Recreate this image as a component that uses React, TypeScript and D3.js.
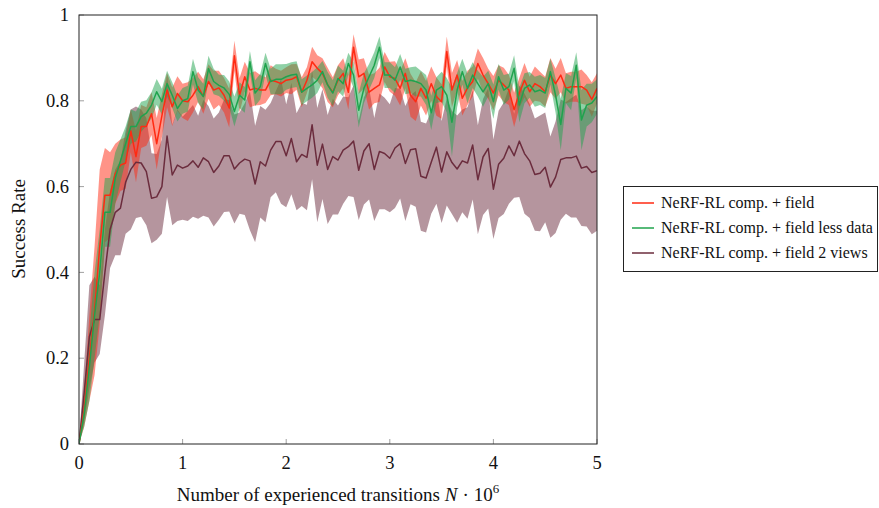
import React from 'react'
import * as d3 from 'd3'

// transitions (millions), sampled every 50k
const steps = d3.range(101).map(i => i / 20)

const fieldMean = [
  0, 0.08, 0.2, 0.31, 0.46, 0.58, 0.58, 0.63, 0.65, 0.655,
  0.73, 0.67, 0.74, 0.74, 0.77, 0.7, 0.765, 0.825, 0.786, 0.817,
  0.8, 0.798, 0.813, 0.833, 0.81, 0.845, 0.825, 0.83, 0.813, 0.783,
  0.905, 0.813, 0.856, 0.825, 0.829, 0.825, 0.825, 0.848, 0.845, 0.84,
  0.848, 0.85, 0.856, 0.82, 0.848, 0.891, 0.876, 0.864, 0.837, 0.82,
  0.848, 0.864, 0.82, 0.925, 0.856, 0.864, 0.82, 0.829, 0.837, 0.879,
  0.856, 0.852, 0.829, 0.864, 0.813, 0.798, 0.829, 0.806, 0.84, 0.81,
  0.798, 0.915, 0.825, 0.86, 0.806, 0.83, 0.845, 0.887, 0.86, 0.84,
  0.818, 0.848, 0.837, 0.825, 0.779, 0.818, 0.848, 0.821, 0.84, 0.833,
  0.821, 0.86, 0.84, 0.86, 0.829, 0.833, 0.833, 0.833, 0.825, 0.803,
  0.829,
]
const fieldStd = [
  0, 0.04, 0.1, 0.15, 0.18, 0.11, 0.1, 0.07, 0.06, 0.06,
  0.05, 0.06, 0.05, 0.045, 0.05, 0.06, 0.05, 0.04, 0.045, 0.04,
  0.04, 0.045, 0.04, 0.035, 0.04, 0.04, 0.045, 0.04, 0.04, 0.045,
  0.035, 0.04, 0.035, 0.04, 0.04, 0.035, 0.03, 0.035, 0.03, 0.03,
  0.03, 0.035, 0.03, 0.035, 0.03, 0.035, 0.03, 0.035, 0.04, 0.035,
  0.035, 0.035, 0.04, 0.03, 0.04, 0.035, 0.04, 0.035, 0.04, 0.035,
  0.035, 0.04, 0.04, 0.035, 0.05, 0.045, 0.04, 0.04, 0.04, 0.045,
  0.04, 0.035, 0.04, 0.035, 0.04, 0.04, 0.035, 0.035, 0.04, 0.035,
  0.04, 0.035, 0.04, 0.035, 0.04, 0.035, 0.04, 0.035, 0.04, 0.035,
  0.035, 0.04, 0.035, 0.04, 0.035, 0.035, 0.035, 0.04, 0.035, 0.04,
  0.035,
]

const lessDataMean = [
  0, 0.07, 0.18, 0.3, 0.4, 0.54, 0.54, 0.62, 0.66, 0.7,
  0.74, 0.74, 0.763, 0.771, 0.79, 0.821, 0.798, 0.84, 0.813, 0.782,
  0.8, 0.805, 0.868, 0.825, 0.81, 0.875, 0.845, 0.836, 0.83, 0.815,
  0.775, 0.813, 0.802, 0.891, 0.818, 0.833, 0.887, 0.845, 0.85, 0.85,
  0.856, 0.86, 0.862, 0.82, 0.829, 0.837, 0.848, 0.868, 0.837, 0.818,
  0.852, 0.84, 0.887, 0.86, 0.778, 0.829, 0.856, 0.883, 0.925, 0.86,
  0.86, 0.848, 0.879, 0.845, 0.848, 0.845, 0.84, 0.825, 0.772, 0.825,
  0.833, 0.813, 0.75, 0.825, 0.868, 0.829, 0.86, 0.84, 0.821, 0.84,
  0.798, 0.856, 0.825, 0.833, 0.876, 0.79, 0.829, 0.837, 0.821, 0.825,
  0.818, 0.868, 0.813, 0.745, 0.829, 0.818, 0.883, 0.755, 0.79, 0.795,
  0.81,
]
const lessDataStd = [
  0, 0.03, 0.08, 0.1, 0.1, 0.08, 0.08, 0.06, 0.05, 0.04,
  0.04, 0.035, 0.035, 0.03, 0.03, 0.03, 0.03, 0.03, 0.03, 0.03,
  0.03, 0.03, 0.03, 0.03, 0.03, 0.03, 0.03, 0.025, 0.03, 0.03,
  0.035, 0.03, 0.03, 0.025, 0.03, 0.03, 0.025, 0.03, 0.035, 0.035,
  0.03, 0.03, 0.03, 0.03, 0.03, 0.03, 0.03, 0.025, 0.03, 0.03,
  0.03, 0.03, 0.025, 0.03, 0.04, 0.035, 0.03, 0.03, 0.025, 0.03,
  0.03, 0.03, 0.03, 0.03, 0.03, 0.035, 0.03, 0.035, 0.04, 0.03,
  0.035, 0.04, 0.08, 0.04, 0.03, 0.035, 0.03, 0.03, 0.035, 0.03,
  0.04, 0.03, 0.035, 0.03, 0.03, 0.04, 0.035, 0.03, 0.035, 0.035,
  0.035, 0.03, 0.04, 0.06, 0.035, 0.04, 0.03, 0.07, 0.05, 0.045,
  0.04,
]

const twoViewsMean = [
  0, 0.12, 0.25, 0.29, 0.29, 0.4, 0.5, 0.54, 0.55, 0.61,
  0.64, 0.657, 0.655, 0.635, 0.573, 0.576, 0.6, 0.718, 0.627, 0.65,
  0.643, 0.648, 0.66, 0.645, 0.667, 0.658, 0.633, 0.648, 0.672, 0.672,
  0.641, 0.655, 0.664, 0.66, 0.606, 0.658, 0.648, 0.685, 0.705, 0.705,
  0.672, 0.712, 0.658, 0.675, 0.668, 0.744, 0.65, 0.699, 0.64, 0.67,
  0.662, 0.685, 0.693, 0.706, 0.638, 0.683, 0.7, 0.64, 0.682, 0.677,
  0.666, 0.69, 0.7, 0.654, 0.686, 0.688, 0.624, 0.62, 0.657, 0.692,
  0.634, 0.681, 0.656, 0.641, 0.66, 0.655, 0.697, 0.616, 0.669, 0.689,
  0.594, 0.652, 0.666, 0.695, 0.672, 0.706, 0.677, 0.66, 0.628, 0.631,
  0.645, 0.599, 0.622, 0.663, 0.667, 0.667, 0.671, 0.643, 0.647, 0.633,
  0.637,
]
const twoViewsStd = [
  0, 0.07, 0.12, 0.1, 0.08, 0.1, 0.09, 0.1, 0.11, 0.12,
  0.14, 0.13, 0.125, 0.125, 0.105, 0.1, 0.11, 0.142, 0.117, 0.13,
  0.12, 0.128, 0.13, 0.12, 0.135, 0.13, 0.126, 0.125, 0.131, 0.13,
  0.127, 0.118, 0.13, 0.162, 0.136, 0.13, 0.131, 0.11, 0.118, 0.145,
  0.12, 0.13, 0.113, 0.12, 0.123, 0.127, 0.133, 0.128, 0.127, 0.135,
  0.127, 0.125, 0.115, 0.13, 0.116, 0.125, 0.13, 0.12, 0.135, 0.13,
  0.126, 0.14, 0.128, 0.134, 0.127, 0.135, 0.127, 0.127, 0.12, 0.132,
  0.119, 0.125, 0.12, 0.125, 0.12, 0.13, 0.127, 0.127, 0.135, 0.14,
  0.116, 0.125, 0.13, 0.135, 0.098, 0.13, 0.14, 0.133, 0.131, 0.135,
  0.128, 0.118, 0.13, 0.14, 0.13, 0.139, 0.143, 0.135, 0.14, 0.144,
  0.14,
]

const xTicks = [0, 1, 2, 3, 4, 5]
const yTicks = [0, 0.2, 0.4, 0.6, 0.8, 1]
const yTickLabels = ['0', '0.2', '0.4', '0.6', '0.8', '1']

const series = [
  { name: 'NeRF-RL comp. + field', mean: fieldMean, std: fieldStd, color: '#ff2a12' },
  { name: 'NeRF-RL comp. + field less data', mean: lessDataMean, std: lessDataStd, color: '#1fa34d' },
  { name: 'NeRF-RL comp. + field 2 views', mean: twoViewsMean, std: twoViewsStd, color: '#6b2c3d' },
]

const W = 879
const H = 508
const left = 79, right = 597, top = 15, bottom = 444
const font = '"Liberation Serif", "DejaVu Serif", serif'

const App = () => {
  const x = d3.scaleLinear().domain([0, 5]).range([left, right])
  const y = d3.scaleLinear().domain([0, 1]).range([bottom, top])

  const band = (s) =>
    d3.area<number>()
      .x((d, i) => x(steps[i]))
      .y0((d, i) => y(d - s.std[i]))
      .y1((d, i) => y(d + s.std[i]))(s.mean)
  const line = (s) =>
    d3.line<number>()
      .x((d, i) => x(steps[i]))
      .y(d => y(d))(s.mean)

  // draw order: brown band under the others, lines on top
  const order = [2, 0, 1]

  return (
    <svg width={W} height={H} style={{ position: 'absolute', left: 0, top: 0, background: '#fff' }} fontFamily={font}>
      <defs>
        <clipPath id="plot">
          <rect x={left} y={top} width={right - left} height={bottom - top} />
        </clipPath>
      </defs>
      <g clipPath="url(#plot)">
        {order.map(k => (
          <path key={'b' + k} d={band(series[k])} fill={series[k].color} fillOpacity={0.5} stroke="none" />
        ))}
        {order.map(k => (
          <path key={'l' + k} d={line(series[k])} fill="none" stroke={series[k].color} strokeWidth={1.5} strokeLinejoin="round" />
        ))}
      </g>

      {xTicks.map(t => (
        <g key={'x' + t}>
          <line x1={x(t)} x2={x(t)} y1={bottom} y2={bottom - 5} stroke="#888" strokeWidth={0.8} />
          <text x={x(t)} y={469} fontSize={18.5} textAnchor="middle" fill="#111">{t}</text>
        </g>
      ))}
      {yTicks.map((t, i) => (
        <g key={'y' + t}>
          <line x1={left} x2={left + 5} y1={y(t)} y2={y(t)} stroke="#888" strokeWidth={0.8} />
          <text x={left - 10} y={y(t)} dy="0.34em" fontSize={18.5} textAnchor="end" fill="#111">{yTickLabels[i]}</text>
        </g>
      ))}

      <rect x={left} y={top} width={right - left} height={bottom - top} fill="none" stroke="#222" strokeWidth={1} />

      <text x={338} y={501} fontSize={19} textAnchor="middle" fill="#111">
        Number of experienced transitions <tspan fontStyle="italic">N</tspan>
        <tspan dx={5}>·</tspan>
        <tspan dx={5}>10</tspan>
        <tspan fontSize={13} dy={-8}>6</tspan>
      </text>
      <text transform="translate(25,229) rotate(-90)" fontSize={19} textAnchor="middle" fill="#111">Success Rate</text>

      <rect x={623.5} y={186.5} width={254} height={85} fill="#fff" stroke="#222" strokeWidth={1} />
      {series.map((s, i) => (
        <g key={'leg' + i}>
          <line x1={632} x2={654} y1={203 + i * 25} y2={203 + i * 25} stroke={s.color} strokeWidth={1.5} />
          <text x={661} y={203 + i * 25} dy="0.34em" fontSize={16} fill="#111">{s.name}</text>
        </g>
      ))}
    </svg>
  )
}

export default App
